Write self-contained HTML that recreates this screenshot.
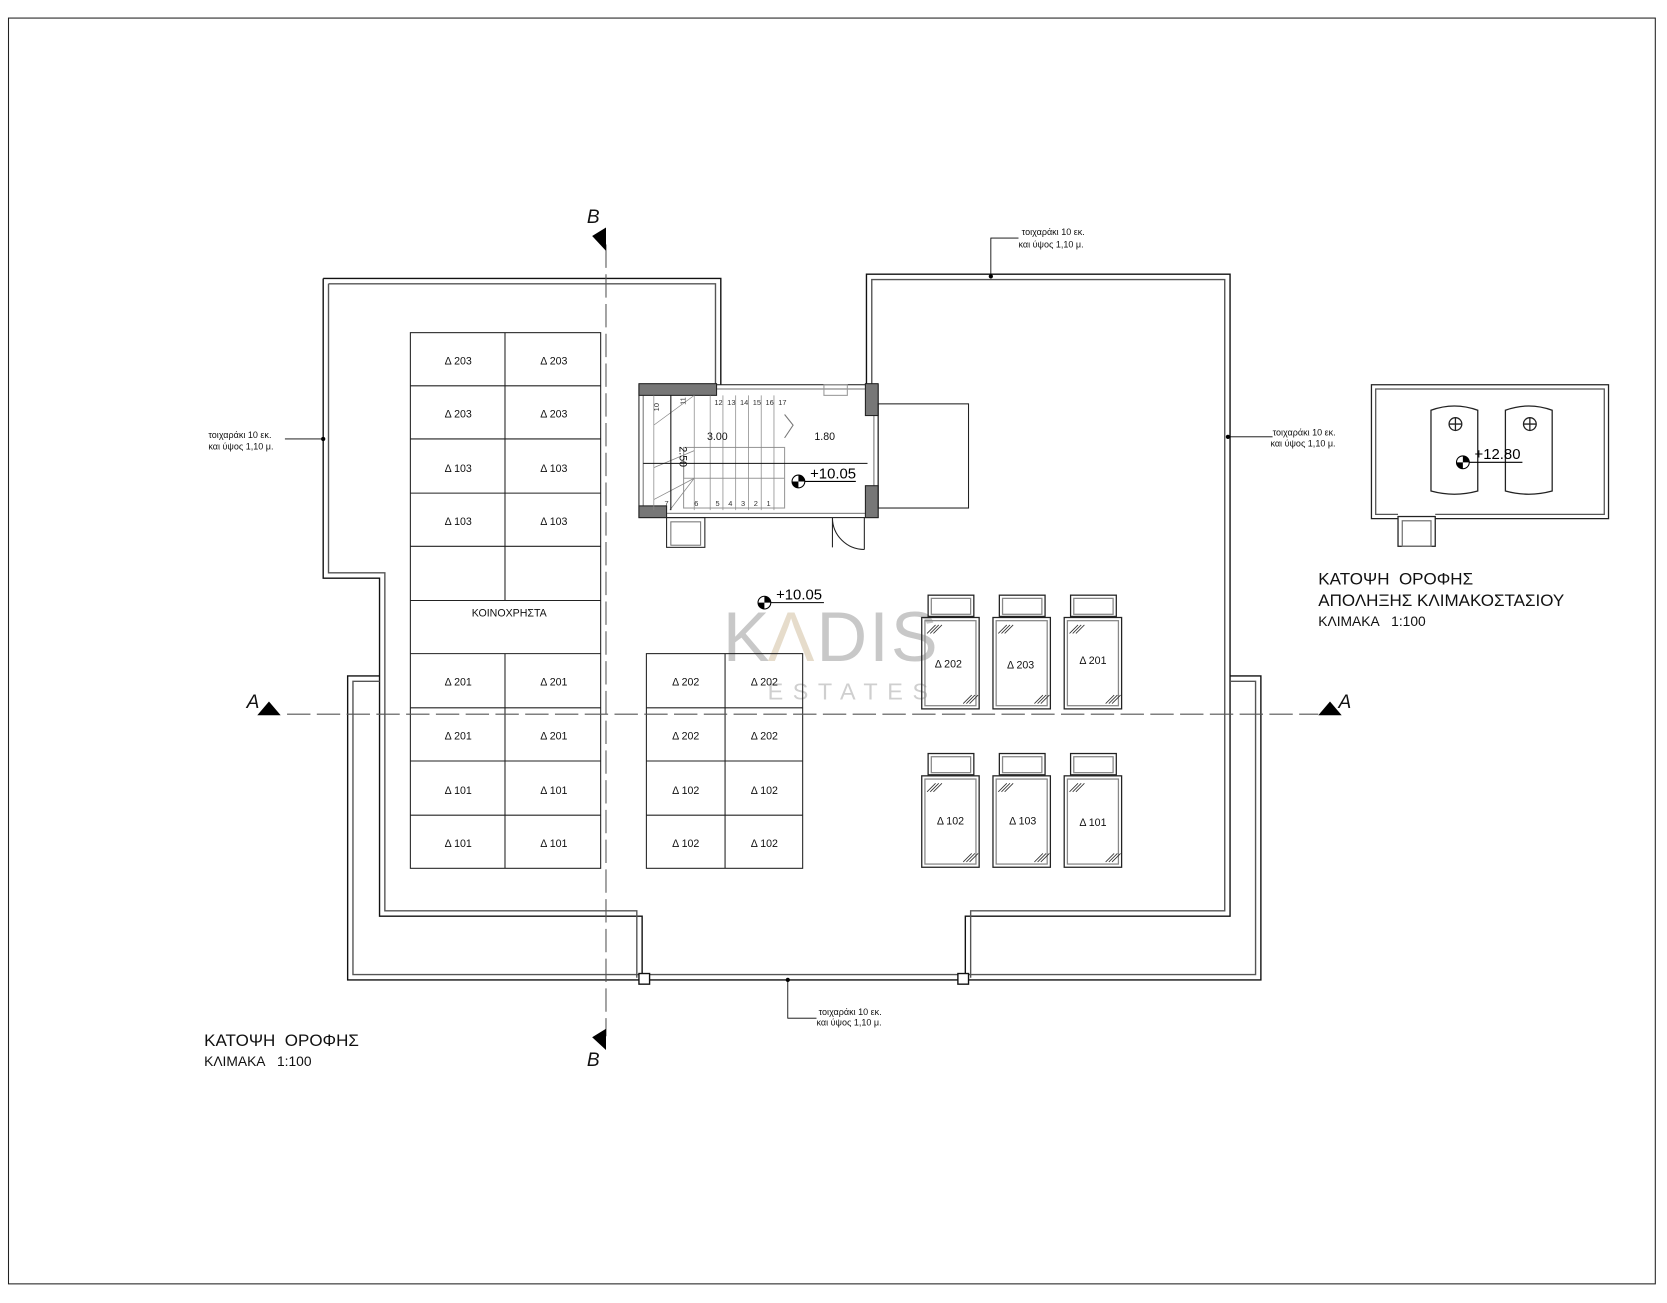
<!DOCTYPE html>
<html><head><meta charset="utf-8"><style>html,body{margin:0;padding:0;background:#fff}svg{display:block}</style></head>
<body>
<svg width="1667" height="1303" viewBox="0 0 1568 1226" preserveAspectRatio="none" xmlns="http://www.w3.org/2000/svg" font-family="Liberation Sans, DejaVu Sans, sans-serif">
<rect x="0" y="0" width="1568" height="1226" fill="#fff"/>
<rect x="8" y="17" width="1549" height="1191" fill="none" stroke="#222" stroke-width="1"/>

<!-- watermark -->
<text x="680" y="622" font-size="66" fill="#c8c8c8" letter-spacing="2">K</text>
<text x="722" y="622" font-size="66" fill="#e6dccb">Λ</text>
<text x="768" y="622" font-size="66" fill="#c8c8c8" letter-spacing="2">DIS</text>
<text x="722" y="658" font-size="22" fill="#cfcfcf" letter-spacing="9">ESTATES</text>

<g fill="none" stroke="#111" stroke-width="1.3">
<path d="M304,262 H678 V362 M304,262 V544 H357 V862 H604 V920"/>
<path d="M309,267 H673 V362 M309,267 V539 H362 V857 H599 V920" stroke="#555"/>
<path d="M815,362 V258 H1157 V862 H908 V920"/>
<path d="M820,362 V263 H1152 V857 H913 V920" stroke="#555"/>
<path d="M357,636 H327 V922 H1186 V636 H1157"/>
<path d="M357,641 H332 V917 H1181 V641 H1157" stroke="#555"/>
<rect x="601" y="916" width="10" height="10" fill="#fff"/>
<rect x="901" y="916" width="10" height="10" fill="#fff"/>
</g>

<g fill="none" stroke="#222" stroke-width="1">
<rect x="601" y="362" width="225" height="125"/>
<rect x="605" y="366" width="217" height="117" stroke="#777"/>
<rect x="601" y="361" width="73" height="11" fill="#777"/>
<rect x="601" y="476" width="26" height="11" fill="#777"/>
<rect x="814" y="361" width="12" height="30" fill="#777"/>
<rect x="814" y="457" width="12" height="30" fill="#777"/>
<rect x="775" y="362" width="22" height="10" stroke="#999"/>
<rect x="826" y="380" width="85" height="98"/>
<rect x="627" y="487" width="36" height="28"/>
<rect x="631" y="491" width="28" height="22" stroke="#777"/>
<path d="M783,487 V515 M783,487 A30,30 0 0 0 813,517 M813,487 V517"/>
<rect x="643" y="421" width="95" height="57" stroke="#999"/>
<path d="M643,421 V450 H738" stroke="#999"/>
<path d="M653,372 V480 M668,372 V480 M680,372 V480 M692,372 V480 M704,372 V480 M716,372 V480 M728,372 V480" stroke="#888" stroke-width="0.7"/>
<path d="M615,372 V480 M615,400 L653,372 M615,440 L653,424 M615,470 L653,450 M630,480 L653,450" stroke="#888" stroke-width="0.7"/>
<path d="M738,412 L746,400 L738,390" stroke="#777"/>
<path d="M605,436 H737 M737,436 H816 M631,372 V480" stroke="#111"/>
</g>
<g font-size="7" fill="#333">
<text x="620" y="387" transform="rotate(-90 620 387)">10</text>
<text x="645" y="381" transform="rotate(-90 645 381)">11</text>
<text x="672" y="381">12</text><text x="684" y="381">13</text><text x="696" y="381">14</text><text x="708" y="381">15</text><text x="720" y="381">16</text><text x="732" y="381">17</text>
<text x="625" y="476">7</text><text x="653" y="476">6</text><text x="673" y="476">5</text><text x="685" y="476">4</text><text x="697" y="476">3</text><text x="709" y="476">2</text><text x="721" y="476">1</text>
</g>
<text x="665" y="414" font-size="10" fill="#111">3.00</text>
<text x="766" y="414" font-size="10" fill="#111">1.80</text>
<text x="639" y="420" font-size="10" fill="#111" transform="rotate(90 639 420)">2.50</text>

<g>
<circle cx="751" cy="453" r="6" fill="#fff" stroke="#000"/><path d="M751,447 A6,6 0 0 1 757,453 H751Z M751,459 A6,6 0 0 1 745,453 H751Z" fill="#000"/>
<line x1="757" y1="453" x2="805" y2="453" stroke="#000"/>
<text x="762" y="450" font-size="14">+10.05</text>
<circle cx="719" cy="567" r="6" fill="#fff" stroke="#000"/><path d="M719,561 A6,6 0 0 1 725,567 H719Z M719,573 A6,6 0 0 1 713,567 H719Z" fill="#000"/>
<line x1="725" y1="567" x2="775" y2="567" stroke="#000"/>
<text x="730" y="564" font-size="14">+10.05</text>
</g>

<g fill="none" stroke="#222" stroke-width="1">
<rect x="386" y="313" width="179" height="504"/>
<path d="M475,313 V565 M475,615 V817 M386,363 H565 M386,413 H565 M386,464 H565 M386,514 H565 M386,565 H565 M386,615 H565 M386,666 H565 M386,716 H565 M386,767 H565"/>
<rect x="608" y="615" width="147" height="202"/>
<path d="M682,615 V817 M608,666 H755 M608,716 H755 M608,767 H755"/>
</g>
<g font-size="10" fill="#111" text-anchor="middle">
<text x="431" y="343">Δ 203</text><text x="521" y="343">Δ 203</text>
<text x="431" y="393">Δ 203</text><text x="521" y="393">Δ 203</text>
<text x="431" y="444">Δ 103</text><text x="521" y="444">Δ 103</text>
<text x="431" y="494">Δ 103</text><text x="521" y="494">Δ 103</text>
<text x="479" y="580">ΚΟΙΝΟΧΡΗΣΤΑ</text>
<text x="431" y="645">Δ 201</text><text x="521" y="645">Δ 201</text>
<text x="431" y="696">Δ 201</text><text x="521" y="696">Δ 201</text>
<text x="431" y="747">Δ 101</text><text x="521" y="747">Δ 101</text>
<text x="431" y="797">Δ 101</text><text x="521" y="797">Δ 101</text>
<text x="645" y="645">Δ 202</text><text x="719" y="645">Δ 202</text>
<text x="645" y="696">Δ 202</text><text x="719" y="696">Δ 202</text>
<text x="645" y="747">Δ 102</text><text x="719" y="747">Δ 102</text>
<text x="645" y="797">Δ 102</text><text x="719" y="797">Δ 102</text>
</g>

<g fill="none" stroke="#222" stroke-width="1.2">
<g id="p1"><rect x="873" y="560" width="43" height="20"/><rect x="876" y="563" width="37" height="15" stroke="#888"/><rect x="867" y="581" width="54" height="86"/><rect x="870" y="584" width="48" height="80" stroke="#888"/></g>
<use href="#p1" x="67"/><use href="#p1" x="134"/>
<use href="#p1" y="149"/><use href="#p1" x="67" y="149"/><use href="#p1" x="134" y="149"/>
</g>
<g stroke="#333" stroke-width="0.8">
<g id="h"><path d="M872,596 L880,588 M875,596 L883,588 M878,596 L886,588 M906,662 L914,654 M909,662 L917,654 M912,662 L920,654"/></g>
<use href="#h" x="67"/><use href="#h" x="134"/><use href="#h" y="149"/><use href="#h" x="67" y="149"/><use href="#h" x="134" y="149"/>
</g>
<g font-size="10" fill="#111" text-anchor="middle">
<text x="892" y="628">Δ 202</text><text x="960" y="629">Δ 203</text><text x="1028" y="625">Δ 201</text>
<text x="894" y="776">Δ 102</text><text x="962" y="776">Δ 103</text><text x="1028" y="777">Δ 101</text>
</g>

<g fill="none" stroke="#222" stroke-width="1.2">
<path d="M1315,488 H1290 V362 H1513 V488 H1350"/>
<path d="M1315,484 H1294 V366 H1509 V484 H1350" stroke="#555"/>
<rect x="1315" y="486" width="35" height="28"/>
<rect x="1319" y="490" width="27" height="24" stroke="#777"/>
<path d="M1346,386 Q1368,378 1390,386 V462 Q1368,468 1346,462 Z"/>
<path d="M1416,386 Q1438,378 1460,386 V462 Q1438,468 1416,462 Z"/>
<circle cx="1369" cy="399" r="6"/><path d="M1363,399 H1375 M1369,393 V405"/>
<circle cx="1439" cy="399" r="6"/><path d="M1433,399 H1445 M1439,393 V405"/>
</g>
<circle cx="1376" cy="435" r="6" fill="#fff" stroke="#000"/><path d="M1376,429 A6,6 0 0 1 1382,435 H1376Z M1376,441 A6,6 0 0 1 1370,435 H1376Z" fill="#000"/>
<line x1="1382" y1="435" x2="1432" y2="435" stroke="#000"/>
<text x="1387" y="432" font-size="14">+12.80</text>

<g stroke="#555" stroke-width="1" stroke-dasharray="22,6">
<line x1="570" y1="230" x2="570" y2="975"/>
<line x1="270" y1="672" x2="1240" y2="672"/>
</g>
<g fill="#000">
<path d="M557,222 L570,214 V236 Z"/>
<path d="M557,976 L570,968 V988 Z"/>
<path d="M242,673 L253,660 L264,673 Z"/>
<path d="M1240,673 L1251,660 L1262,673 Z"/>
</g>
<g font-size="18" font-style="italic" fill="#111">
<text x="552" y="210">B</text><text x="552" y="1003">B</text>
<text x="232" y="666">A</text><text x="1259" y="666">A</text>
</g>

<g stroke="#000" fill="none" stroke-width="0.8">
<path d="M932,260 V224 H958"/><path d="M304,413 H268"/><path d="M1155,411 H1197"/><path d="M741,922 V958 H768"/>
</g>
<g fill="#000"><circle cx="932" cy="260" r="2"/><circle cx="304" cy="413" r="2"/><circle cx="1155" cy="411" r="2"/><circle cx="741" cy="922" r="2"/></g>
<g font-size="8.5" fill="#111">
<text x="961" y="221">τοιχαράκι 10 εκ.</text><text x="958" y="233">και ύψος 1,10 μ.</text>
<text x="196" y="412">τοιχαράκι 10 εκ.</text><text x="196" y="423">και ύψος 1,10 μ.</text>
<text x="1197" y="410">τοιχαράκι 10 εκ.</text><text x="1195" y="420">και ύψος 1,10 μ.</text>
<text x="770" y="955">τοιχαράκι 10 εκ.</text><text x="768" y="965">και ύψος 1,10 μ.</text>
</g>

<g fill="#111">
<text x="192" y="984" font-size="16">ΚΑΤΟΨΗ&#160; ΟΡΟΦΗΣ</text>
<text x="192" y="1003" font-size="13">ΚΛΙΜΑΚΑ&#160;&#160; 1:100</text>
<text x="1240" y="550" font-size="16">ΚΑΤΟΨΗ&#160; ΟΡΟΦΗΣ</text>
<text x="1240" y="570" font-size="16">ΑΠΟΛΗΞΗΣ ΚΛΙΜΑΚΟΣΤΑΣΙΟΥ</text>
<text x="1240" y="589" font-size="13">ΚΛΙΜΑΚΑ&#160;&#160; 1:100</text>
</g>
</svg>
</body></html>
